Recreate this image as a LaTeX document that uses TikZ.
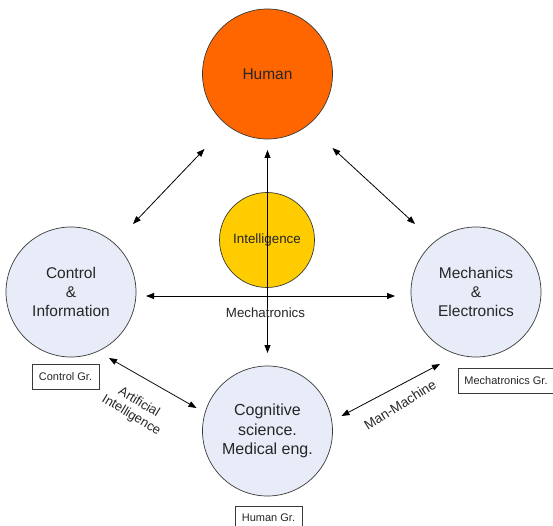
\documentclass[tikz,border=0pt]{standalone}
\usepackage{fontspec}
\setmainfont{Liberation Sans}
\usetikzlibrary{arrows.meta,calc}
\definecolor{txt}{HTML}{262626}
\definecolor{edge}{HTML}{3A3A3A}
\definecolor{pale}{HTML}{E7ECF8}
\definecolor{orangeH}{HTML}{FF6600}
\definecolor{yellowI}{HTML}{FFCC00}
\tikzset{
  bigcirc/.style={circle,draw=edge,line width=0.7pt,inner sep=0pt,minimum size=130pt,align=center,text=txt,font=\fontsize{15.5}{19}\selectfont},
  grbox/.style={draw=edge,line width=0.7pt,fill=white,inner sep=0pt,text=txt,font=\fontsize{11}{13}\selectfont},
  arr/.style={{Triangle[length=8pt,width=6pt]}-{Triangle[length=8pt,width=6pt]},line width=0.8pt,black},
  lbl/.style={text=txt,font=\fontsize{13.3}{14.5}\selectfont,align=center,inner sep=0pt}
}
\begin{document}
\begin{tikzpicture}[x=1pt,y=-1pt]
\useasboundingbox (0,0) rectangle (553,526);
\node[bigcirc,fill=orangeH] (human) at (267.5,74) {Human};
\node[bigcirc,fill=pale] (ctrl) at (71,292) {Control\\\&\\Information};
\node[bigcirc,fill=pale] (mech) at (476,292) {Mechanics\\\&\\Electronics};
\node[bigcirc,fill=pale,font=\fontsize{16}{19.5}\selectfont] (cog) at (267.5,431) {Cognitive\\science.\\Medical eng.};
\node[circle,draw=edge,line width=0.7pt,fill=yellowI,minimum size=95pt,inner sep=0pt] (intel) at (267,240) {};
\node[lbl,font=\fontsize{13.4}{15}\selectfont] (intelt) at (267,240) {Intelligence};
% boxes
\node[grbox,minimum width=67pt,minimum height=25pt] (cgr) at (65.5,376.5) {Control Gr.};
\node[grbox,minimum width=96pt,minimum height=25pt] (mgr) at (506,380.5) {Mechatronics Gr.};
\node[grbox,minimum width=67pt,minimum height=24pt] (hgr) at (268.5,518) {Human Gr.};
% arrows
\draw[arr] ($(human)+(0,76)$) -- ($(cog)+(0,-78)$);
\draw[arr] ($(ctrl)+(75,4)$) -- ($(mech)+(-81,4)$);
\draw[arr] ($(ctrl)+(62,-68)$) -- ($(human)+(-63,75)$);
\draw[arr] ($(human)+(65,74)$) -- ($(mech)+(-61,-68)$);
\draw[arr] ($(ctrl)+(38,66)$) -- ($(cog)+(-71,-23)$);
\draw[arr] ($(cog)+(74,-15)$) -- ($(mech)+(-36,72)$);
% labels
\node[lbl] (mecha) at (265.5,313) {Mechatronics};
\node[lbl,rotate=-31,font=\fontsize{13}{15}\selectfont] (ai) at (135,409) {Artificial\\Intelligence};
\node[lbl,rotate=32,font=\fontsize{13.5}{15}\selectfont] (mm) at (400,405) {Man-Machine};
\end{tikzpicture}
\end{document}
